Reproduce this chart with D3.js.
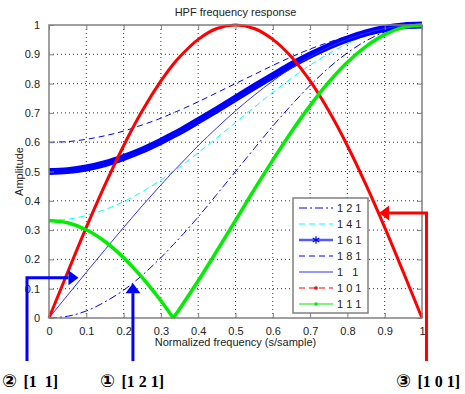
<!DOCTYPE html>
<html>
<head>
<meta charset="utf-8">
<script src="https://cdn.jsdelivr.net/npm/d3@7"></script>
<style>
  body { margin: 0; background: #fff; }
  text { font-family: "Liberation Sans", Arial, sans-serif; fill: #222; }
</style>
</head>
<body>
<svg id="chart" width="465" height="394"></svg>
<script>
// normalized frequency samples (s/sample)
const freq = [0, 0.05, 0.1, 0.15, 0.2, 0.25, 0.3, 0.333, 0.35, 0.4, 0.45, 0.5,
  0.55, 0.6, 0.65, 0.7, 0.75, 0.8, 0.85, 0.9, 0.95, 1];

// amplitude
const amp121 = [0, 0.006, 0.024, 0.055, 0.095, 0.146, 0.206, 0.25, 0.273, 0.345, 0.422, 0.5,
  0.578, 0.655, 0.727, 0.794, 0.854, 0.905, 0.946, 0.976, 0.994, 1];
const amp141 = [0.333, 0.337, 0.35, 0.37, 0.397, 0.431, 0.471, 0.5, 0.515, 0.564, 0.615, 0.667,
  0.719, 0.77, 0.818, 0.863, 0.902, 0.936, 0.964, 0.984, 0.996, 1];
const amp161 = [0.5, 0.503, 0.512, 0.527, 0.548, 0.573, 0.603, 0.625, 0.636, 0.673, 0.711, 0.75,
  0.789, 0.827, 0.864, 0.897, 0.927, 0.952, 0.973, 0.988, 0.997, 1];
const amp181 = [0.6, 0.602, 0.61, 0.622, 0.638, 0.659, 0.682, 0.7, 0.709, 0.738, 0.769, 0.8,
  0.831, 0.862, 0.891, 0.918, 0.941, 0.962, 0.978, 0.99, 0.998, 1];
const amp11 = [0, 0.078, 0.156, 0.233, 0.309, 0.383, 0.454, 0.5, 0.522, 0.588, 0.649, 0.707,
  0.76, 0.809, 0.853, 0.891, 0.924, 0.951, 0.972, 0.988, 0.997, 1];
const amp101 = [0, 0.156, 0.309, 0.454, 0.588, 0.707, 0.809, 0.866, 0.891, 0.951, 0.988, 1,
  0.988, 0.951, 0.891, 0.809, 0.707, 0.588, 0.454, 0.309, 0.156, 0];
const amp111 = [0.333, 0.325, 0.301, 0.261, 0.206, 0.138, 0.059, 0, 0.031, 0.127, 0.229, 0.333,
  0.438, 0.539, 0.636, 0.725, 0.805, 0.873, 0.927, 0.967, 0.992, 1];

const legendLabels = ['1 2 1', '1 4 1', '1 6 1', '1 8 1', '1   1', '1 0 1', '1 1 1'];
const xTicks = [0, 0.1, 0.2, 0.3, 0.4, 0.5, 0.6, 0.7, 0.8, 0.9, 1];
const yTicks = [0, 0.1, 0.2, 0.3, 0.4, 0.5, 0.6, 0.7, 0.8, 0.9, 1];

const series = [
  { values: amp121, color: '#0000ff', width: 1, dash: '8,3,2,3' },
  { values: amp141, color: '#00ffff', width: 1, dash: '6,4' },
  { values: amp161, color: '#0000ff', width: 7, dash: null, marker: 'star' },
  { values: amp181, color: '#0000ff', width: 1, dash: '6,4' },
  { values: amp11,  color: '#3030ff', width: 1, dash: null },
  { values: amp101, color: '#ff0000', width: 3, dash: null, legendDash: '6,4', marker: 'dot' },
  { values: amp111, color: '#00ee00', width: 3.5, dash: null, marker: 'dot', splitAtMin: true }
];

// annotation arrows, in data units (they sit partly outside the axes)
const arrows = [
  { color: '#0000ff', label: '\u2461', text: '[1  1]', pts: [[-0.059, -0.147], [-0.059, 0.137], [0.079, 0.137]] },
  { color: '#0000ff', label: '\u2460', text: '[1 2 1]', pts: [[0.225, -0.147], [0.225, 0.119]] },
  { color: '#ff0000', label: '\u2462', text: '[1 0 1]', pts: [[1.012, -0.147], [1.012, 0.358], [0.885, 0.358]] }
];
const noteX = [2, 100, 396];

const margin = { top: 25, right: 43, bottom: 76, left: 49 },
  width = 465 - margin.left - margin.right,
  height = 394 - margin.top - margin.bottom;

const svg = d3.select('#chart');
const g = svg.append('g').attr('transform', 'translate(' + margin.left + ',' + margin.top + ')');

const x = d3.scaleLinear().domain([0, 1]).range([0, width]);
const y = d3.scaleLinear().domain([0, 1]).range([height, 0]);

// dotted grid
g.append('g').selectAll('line').data(xTicks.slice(1, -1)).join('line')
  .attr('x1', d => x(d)).attr('x2', d => x(d)).attr('y1', 0).attr('y2', height)
  .attr('stroke', '#333').attr('stroke-dasharray', '1,3');
g.append('g').selectAll('line').data(yTicks.slice(1, -1)).join('line')
  .attr('y1', d => y(d)).attr('y2', d => y(d)).attr('x1', 0).attr('x2', width)
  .attr('stroke', '#333').attr('stroke-dasharray', '1,3');

// curves
const line = d3.line()
  .x(d => x(d[0]))
  .y(d => y(d[1]))
  .curve(d3.curveCatmullRom.alpha(0.5));

const plot = g.append('g');
series.forEach(s => {
  const pts = freq.map((f, i) => [f, s.values[i]]);
  let parts = [pts];
  if (s.splitAtMin) {
    const k = d3.minIndex(s.values);
    parts = [pts.slice(0, k + 1), pts.slice(k)];
  }
  parts.forEach(p => {
    plot.append('path')
      .attr('d', line(p))
      .attr('fill', 'none')
      .attr('stroke', s.color)
      .attr('stroke-width', s.width)
      .attr('stroke-dasharray', s.dash)
      .attr('stroke-linejoin', 'round');
  });
});

// axes with inward ticks on all four sides
const axisStyle = sel => {
  sel.select('.domain').remove();
  sel.selectAll('.tick line').attr('stroke', '#808080');
  sel.selectAll('.tick text').attr('font-size', 11).attr('fill', '#222');
};
g.append('g').attr('transform', 'translate(0,' + height + ')')
  .call(d3.axisBottom(x).tickValues(xTicks).tickFormat(d3.format('~g')).tickSizeInner(-5).tickSizeOuter(0).tickPadding(9))
  .call(axisStyle);
g.append('g')
  .call(d3.axisLeft(y).tickValues(yTicks).tickFormat(d3.format('~g')).tickSizeInner(-5).tickSizeOuter(0).tickPadding(9))
  .call(axisStyle);
g.append('g')
  .call(d3.axisTop(x).tickValues(xTicks).tickFormat('').tickSizeInner(-5).tickSizeOuter(0))
  .call(axisStyle);
g.append('g').attr('transform', 'translate(' + width + ',0)')
  .call(d3.axisRight(y).tickValues(yTicks).tickFormat('').tickSizeInner(-5).tickSizeOuter(0))
  .call(axisStyle);

g.append('rect').attr('width', width).attr('height', height)
  .attr('fill', 'none').attr('stroke', '#808080').attr('stroke-width', 1.5);

// titles
svg.append('text').attr('x', margin.left + width / 2).attr('y', 16)
  .attr('text-anchor', 'middle').attr('font-size', 11).text('HPF frequency response');
svg.append('text').attr('x', margin.left + width / 2).attr('y', 346)
  .attr('text-anchor', 'middle').attr('font-size', 11).text('Normalized frequency (s/sample)');
svg.append('text').attr('transform', 'translate(23,' + (margin.top + height / 2) + ') rotate(-90)')
  .attr('text-anchor', 'middle').attr('font-size', 11).text('Amplitude');

// legend
const lg = svg.append('g').attr('transform', 'translate(293,198)');
lg.append('rect').attr('width', 75).attr('height', 115)
  .attr('fill', '#fff').attr('stroke', '#808080').attr('stroke-width', 1.5);
series.forEach((s, i) => {
  const row = lg.append('g').attr('transform', 'translate(0,' + (10 + i * 16) + ')');
  if (s.width > 5) {
    row.append('line').attr('x1', 6).attr('x2', 40)
      .attr('stroke', '#aab4ff').attr('stroke-width', 3);
  }
  row.append('line').attr('x1', 6).attr('x2', 40)
    .attr('stroke', s.color)
    .attr('stroke-width', 1.2)
    .attr('stroke-dasharray', s.legendDash || s.dash);
  if (s.marker === 'star') {
    row.append('path').attr('transform', 'translate(23,0)')
      .attr('d', d3.symbol(d3.symbolAsterisk, 40)())
      .attr('fill', 'none').attr('stroke', s.color).attr('stroke-width', 1.2);
  } else if (s.marker === 'dot') {
    row.append('circle').attr('cx', 23).attr('r', 1.8).attr('fill', s.color);
  }
  row.append('text').attr('x', 44).attr('y', 4).attr('font-size', 11)
    .style('white-space', 'pre').text(legendLabels[i]);
});

// annotation arrows and labels
const ann = g.append('g');
arrows.forEach((a, i) => {
  const p = a.pts.map(d => [x(d[0]), y(d[1])]);
  const tip = p[p.length - 1], prev = p[p.length - 2];
  const dx = tip[0] - prev[0], dy = tip[1] - prev[1];
  const len = Math.hypot(dx, dy), ux = dx / len, uy = dy / len;
  const headLen = 10, half = 7.5;
  const base = [tip[0] - ux * headLen, tip[1] - uy * headLen];
  const shaft = p.slice(0, -1).concat([base]);
  ann.append('path').attr('d', d3.line()(shaft))
    .attr('fill', 'none').attr('stroke', a.color).attr('stroke-width', 3);
  ann.append('path')
    .attr('d', d3.line()([tip, [base[0] - uy * half, base[1] + ux * half], [base[0] + uy * half, base[1] - ux * half]]) + 'Z')
    .attr('fill', a.color);

  const t = svg.append('text').attr('x', noteX[i]).attr('y', 387)
    .style('white-space', 'pre');
  t.append('tspan').attr('font-family', '"DejaVu Sans", "Noto Sans CJK JP", sans-serif')
    .attr('font-weight', 'bold').attr('font-size', 18).attr('fill', '#000').text(a.label + ' ');
  t.append('tspan').attr('font-family', '"Liberation Serif", "Times New Roman", serif')
    .attr('font-weight', 'bold').attr('font-size', 16).attr('fill', '#000').text(a.text);
});
</script>
</body>
</html>
